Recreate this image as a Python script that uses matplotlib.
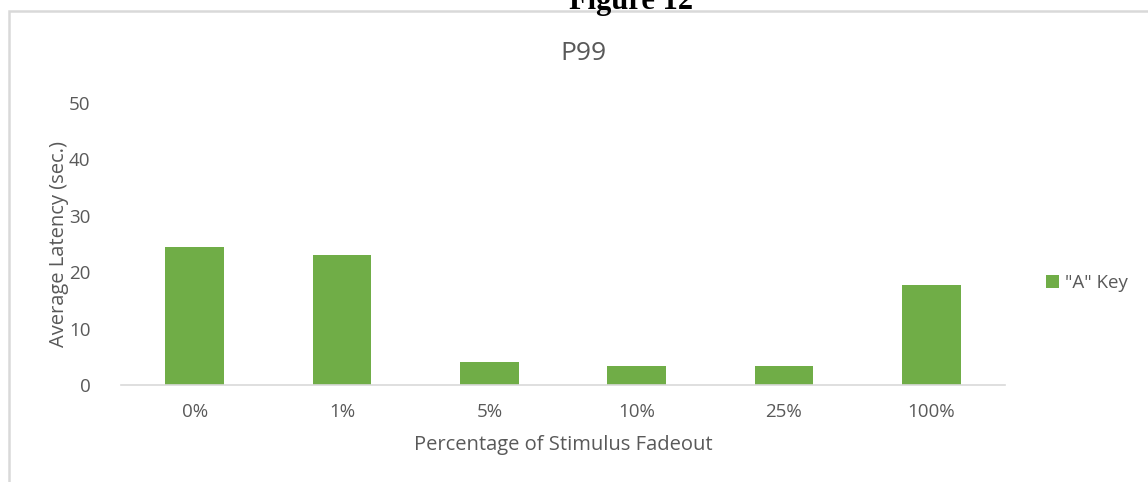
import matplotlib.pyplot as plt
from matplotlib.patches import Rectangle

# Données
categories = ['0%', '1%', '5%', '10%', '25%', '100%']
latency_a = [24.5, 23.0, 4.1, 3.4, 3.4, 17.7]
series_name = '"A" Key'

W, H = 1148, 482
plt.rcParams['font.family'] = ['Open Sans', 'DejaVu Sans']
txt = '#595959'
green = '#70ad47'

fig = plt.figure(figsize=(W / 100, H / 100), dpi=100)
ax = fig.add_axes([121 / W, 1 - 385 / H, (1005 - 121) / W, (385 - 103) / H])

x = range(len(categories))
ax.bar(x, latency_a, width=0.4, color=green, label=series_name)

ax.set_xlim(-0.5, len(categories) - 0.5)
ax.set_ylim(0, 50)
ax.set_yticks([0, 10, 20, 30, 40, 50])
ax.set_xticks(list(x))
ax.set_xticklabels(categories)
ax.tick_params(axis='both', length=0, colors=txt, labelsize=13.5)
ax.tick_params(axis='x', pad=13)
ax.tick_params(axis='y', pad=22)

for s in ['top', 'right', 'left']:
    ax.spines[s].set_visible(False)
ax.spines['bottom'].set_color('#d9d9d9')
ax.spines['bottom'].set_linewidth(1.2)

ax.set_xlabel('Percentage of Stimulus Fadeout', color=txt, fontsize=14.5, va='center')
ax.xaxis.set_label_coords(0.5, (385 - 445) / 282)
ax.set_ylabel('Average Latency (sec.)', color=txt, fontsize=14.5, va='center')
ax.yaxis.set_label_coords((59 - 121) / 884, 0.5)

fig.text(583 / W, 1 - 53 / H, 'P99', ha='center', va='center', color=txt, fontsize=19)

# Légende à droite
fig.legend(loc='center left', bbox_to_anchor=(1038 / W, 1 - 283 / H), frameon=False,
           handlelength=0.7, handleheight=0.7, handletextpad=0.35, fontsize=13.5,
           labelcolor=txt, borderaxespad=0)

# Cadre du graphique et titre coupé en haut
fig.patches.append(Rectangle((9 / W, -0.1), 1.2, 1 - 11 / H + 0.1, transform=fig.transFigure,
                             fill=False, edgecolor='#d9d9d9', linewidth=1.8))
fig.text(631 / W, 1 - 9 / H, 'Figure 12', ha='center', va='baseline', fontsize=22,
         fontweight='bold', family=['Liberation Serif', 'DejaVu Serif'])

fig.savefig('out.png', dpi=100)
